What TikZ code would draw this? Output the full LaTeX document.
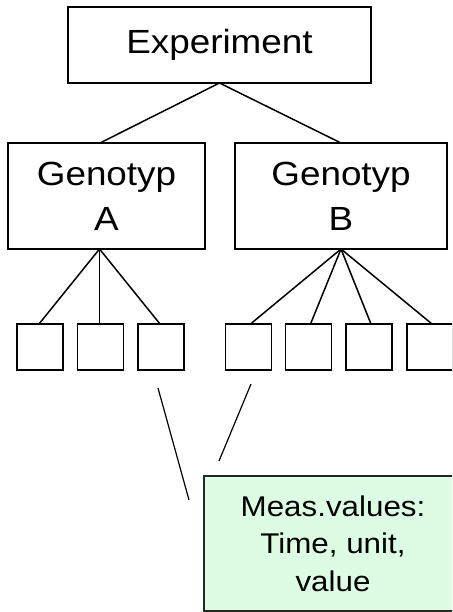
\documentclass[tikz,border=0pt]{standalone}
\usepackage{fontspec}
\setmainfont{Liberation Sans}[FakeStretch=1.1]
\definecolor{measgreen}{RGB}{221,252,228}
\begin{document}
\begin{tikzpicture}[x=1pt,y=-1pt,
  every node/.style={inner sep=0pt,outer sep=0pt},
  box/.style={draw=black,line width=1.8pt,fill=white},
  bigtext/.style={font=\fontsize{33.5}{45}\selectfont,align=center},
  leaf/.style={box,minimum width=46pt,minimum height=46pt},
  link/.style={draw=black,line width=1.5pt},
  thin/.style={draw=black,line width=1.2pt}]
\useasboundingbox (0,0) rectangle (452,612);
\clip (0,0) rectangle (452,612);

% top level
\node[box,bigtext,minimum width=303pt,minimum height=76pt] (exp) at (219.5,45) {Experiment};

% genotypes
\node[box,bigtext,minimum width=197pt,minimum height=106pt] (gA) at (106.5,196) {Genotyp\\A};
\node[box,bigtext,minimum width=212pt,minimum height=106pt] (gB) at (341,196) {Genotyp\\B};

\draw[link] (exp.south) -- ([xshift=-6.5pt]gA.north);
\draw[link] (exp.south) -- (gB.north);

% individual samples
\node[leaf] (a1) at (40,347) {};
\node[leaf] (a2) at (100.5,347) {};
\node[leaf] (a3) at (161,347) {};
\node[leaf] (b1) at (248.5,347) {};
\node[leaf] (b2) at (308.5,347) {};
\node[leaf] (b3) at (369,347) {};
\node[leaf] (b4) at (430,347) {};

\coordinate (hubA) at ([xshift=-7pt]gA.south);
\foreach \n in {a1,a2,a3} \draw[link] (hubA) -- ([xshift=-1pt]\n.north);
\foreach \n in {b1,b2,b3,b4} \draw[link] (gB.south) -- ([xshift=2pt]\n.north);

% measured values
\node[draw=black!85,line width=1.8pt,fill=measgreen,minimum width=258pt,minimum height=135pt,
      font=\fontsize{28.5}{37.5}\selectfont,align=center] (meas) at (333,543.5)
      {Meas.values:\\Time, unit,\\value};

\coordinate (l1s) at (158,388);
\coordinate (l1e) at (189,500);
\coordinate (l2s) at (251,384);
\coordinate (l2e) at (219,461);
\draw[thin] (l1s) -- (l1e);
\draw[thin] (l2s) -- (l2e);
\end{tikzpicture}
\end{document}
